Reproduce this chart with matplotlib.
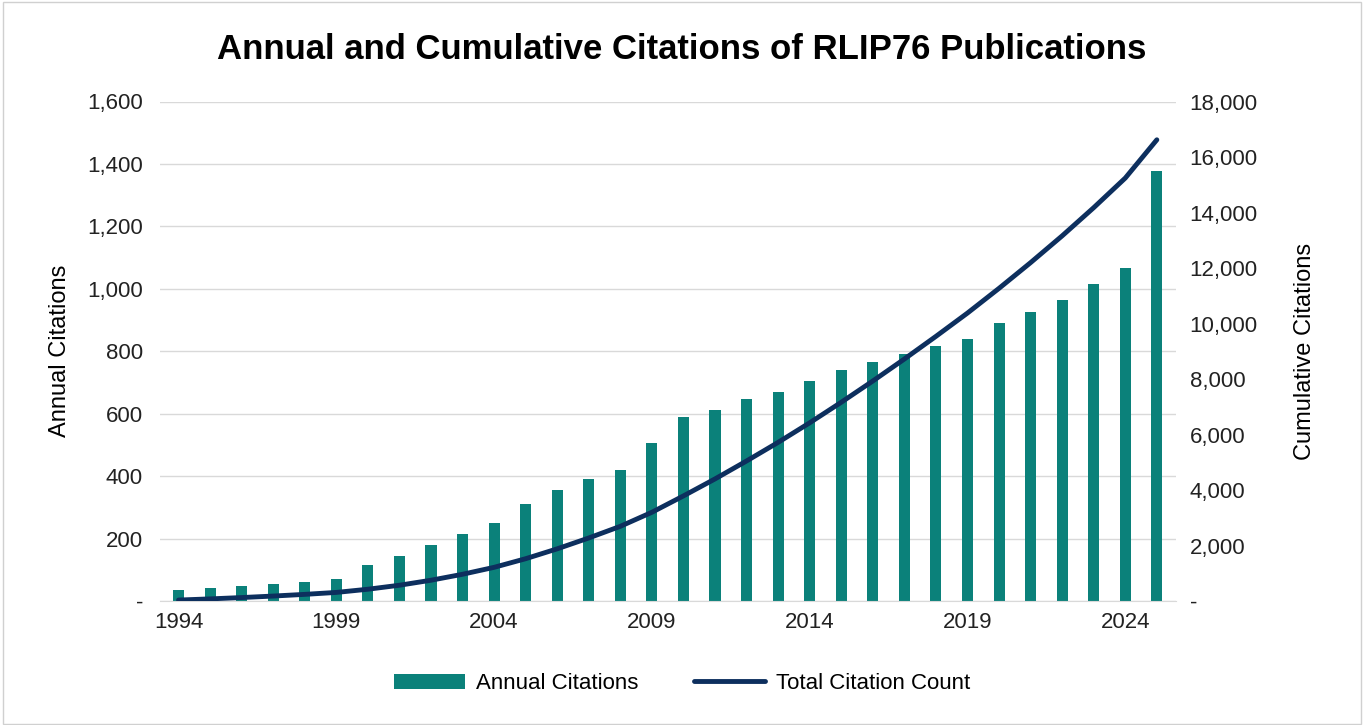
import matplotlib.pyplot as plt
from matplotlib.ticker import FuncFormatter

plt.rcParams['font.family'] = ['Liberation Sans', 'DejaVu Sans']

years = list(range(1994, 2026))
annual = [35, 42, 48, 54, 61, 70, 115, 144, 180, 215, 250, 311, 356, 391, 420, 506,
          590, 612, 647, 670, 705, 740, 766, 792, 817, 840, 891, 926, 965, 1016, 1067, 1378]
cumulative = [35, 77, 125, 179, 240, 310, 425, 569, 749, 964, 1214, 1525, 1881, 2272, 2692, 3198,
              3788, 4400, 5047, 5717, 6422, 7162, 7928, 8720, 9537, 10377, 11268, 12194, 13159,
              14175, 15242, 16620]

bar_color = "#0B817A"
line_color = "#0D2F5E"

fig = plt.figure(figsize=(13.64, 7.25), dpi=100)
fig.patches.append(plt.Rectangle((0.002, 0.002), 0.996, 0.995, transform=fig.transFigure,
                                 fill=False, edgecolor="#d0d0d0", lw=1))
ax = fig.add_axes([0.117, 0.171, 0.745, 0.689])
ax2 = ax.twinx()

b = ax.bar(years, annual, width=0.35, color=bar_color, label="Annual Citations", zorder=2)
l, = ax2.plot(years, cumulative, color=line_color, lw=3.5, label="Total Citation Count",
              solid_capstyle='round')

fmt = FuncFormatter(lambda v, p: "-" if v == 0 else f"{int(v):,}")
ax.set_ylim(0, 1600)
ax.set_yticks(range(0, 1601, 200))
ax.yaxis.set_major_formatter(fmt)
ax2.set_ylim(0, 18000)
ax2.set_yticks(range(0, 18001, 2000))
ax2.yaxis.set_major_formatter(fmt)
ax.set_xlim(1993.4, 2025.6)
ax.set_xticks(range(1994, 2025, 5))

ax.grid(axis='y', color="#d9d9d9", lw=1, zorder=0)
ax.set_axisbelow(True)
for a in (ax, ax2):
    for s in a.spines.values():
        s.set_visible(False)
    a.tick_params(length=0, labelsize=16, colors="#222222")
ax.spines['bottom'].set_visible(True)
ax.spines['bottom'].set_color("#d9d9d9")
ax.tick_params(axis='x', pad=8)
ax.tick_params(axis='y', pad=12)
ax2.tick_params(axis='y', pad=10)

ax.set_ylabel("Annual Citations", fontsize=17, labelpad=12)
ax2.set_ylabel("Cumulative Citations", fontsize=17, labelpad=26)
fig.suptitle("Annual and Cumulative Citations of RLIP76 Publications",
             fontsize=25, fontweight='bold', y=0.955)

fig.legend([b, l], ["Annual Citations", "Total Citation Count"], loc='lower center',
           bbox_to_anchor=(0.5, 0.015), ncol=2, frameon=False, fontsize=16,
           handlelength=3.2, handletextpad=0.5, columnspacing=2.5)

fig.savefig("out.png", dpi=100)
